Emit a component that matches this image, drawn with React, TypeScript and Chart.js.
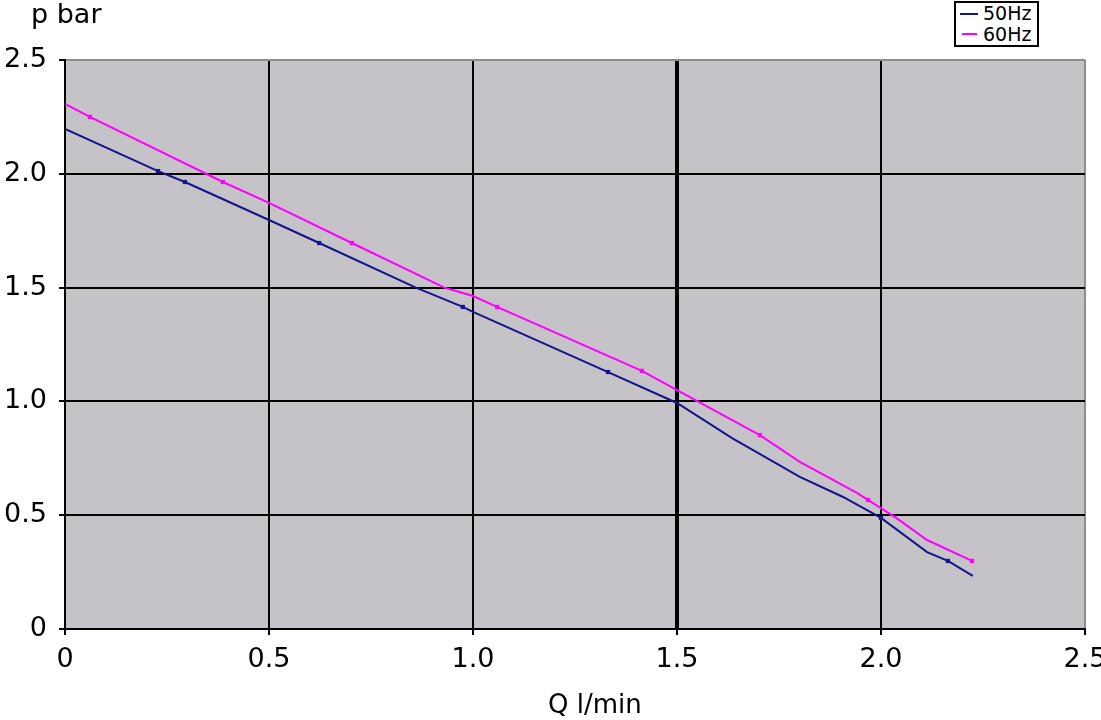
import React, { useEffect, useRef } from 'react';
import { Chart, registerables } from 'chart.js';

Chart.register(...registerables);

// flow Q (l/min) vs pressure p (bar)
const q50 = [0, 0.228, 0.294, 0.5, 0.623, 0.86, 0.975, 1.0, 1.331, 1.5, 1.635, 1.801, 1.907, 2.0, 2.113, 2.164, 2.225];
const p50 = [2.197, 2.012, 1.964, 1.797, 1.696, 1.5, 1.415, 1.393, 1.129, 0.993, 0.839, 0.668, 0.58, 0.488, 0.338, 0.299, 0.233];
const q60 = [0, 0.061, 0.387, 0.5, 0.703, 0.93, 1.0, 1.059, 1.414, 1.5, 1.703, 1.801, 1.941, 1.968, 2.037, 2.113, 2.223];
const p60 = [2.307, 2.25, 1.964, 1.872, 1.696, 1.5, 1.463, 1.415, 1.134, 1.05, 0.852, 0.734, 0.598, 0.567, 0.488, 0.391, 0.299];
const marked50 = [1, 2, 4, 6, 8, 13, 15];
const marked60 = [1, 2, 4, 7, 8, 10, 13, 16];
const seriesNames = ['50Hz', '60Hz'];

const FONT = '"DejaVu Sans", Verdana, sans-serif';
const PLOT_BG = '#c5c3c7';
const BLUE = '#14148c';
const MAGENTA = '#ff00ff';

const plotBackground = {
  id: 'plotBackground',
  beforeDraw(chart: Chart) {
    const { ctx, chartArea } = chart;
    ctx.save();
    ctx.fillStyle = PLOT_BG;
    ctx.fillRect(chartArea.left, chartArea.top, chartArea.right - chartArea.left, chartArea.bottom - chartArea.top);
    ctx.restore();
  },
};

const fmt = (v: number) => (v === 0 ? '0' : v.toFixed(1));

const App: React.FC = () => {
  const canvasRef = useRef<HTMLCanvasElement>(null);
  const chartRef = useRef<Chart | null>(null);

  useEffect(() => {
    if (!canvasRef.current) return;
    if (chartRef.current) {
      chartRef.current.destroy();
      chartRef.current = null;
    }

    const gridColor = (ctx: any) => (ctx.tick && ctx.tick.value === 2.5 ? '#8e8e8e' : '#000000');

    chartRef.current = new Chart(canvasRef.current, {
      type: 'line',
      data: {
        datasets: [
          {
            label: seriesNames[0],
            data: q50.map((q, i) => ({ x: q, y: p50[i] })),
            borderColor: BLUE,
            backgroundColor: BLUE,
            borderWidth: 2,
            tension: 0,
            pointStyle: 'rect',
            pointRadius: (c: any) => (marked50.includes(c.dataIndex) ? 3 : 0),
            pointBorderWidth: 0,
          },
          {
            label: seriesNames[1],
            data: q60.map((q, i) => ({ x: q, y: p60[i] })),
            borderColor: MAGENTA,
            backgroundColor: MAGENTA,
            borderWidth: 2,
            tension: 0,
            pointStyle: 'rect',
            pointRadius: (c: any) => (marked60.includes(c.dataIndex) ? 3 : 0),
            pointBorderWidth: 0,
          },
        ],
      },
      options: {
        responsive: false,
        animation: false,
        layout: { padding: { top: 60, right: 16, left: 0, bottom: 0 } },
        plugins: {
          legend: { display: false },
          tooltip: { enabled: false },
        },
        scales: {
          x: {
            type: 'linear',
            min: 0,
            max: 2.5,
            ticks: {
              stepSize: 0.5,
              color: '#000',
              font: { family: FONT, size: 27 },
              padding: 9,
              maxRotation: 0,
              callback: (v: any) => fmt(Number(v)),
            },
            grid: {
              color: gridColor,
              lineWidth: (c: any) => (c.tick && c.tick.value === 1.5 ? 4 : 2),
              tickColor: '#000',
              tickLength: 6,
              tickWidth: 2,
            },
            border: { display: true, color: '#000', width: 2 },
            afterFit: (scale: any) => {
              scale.height = 91;
              scale.paddingLeft = 0;
              scale.paddingRight = 0;
            },
          },
          y: {
            type: 'linear',
            min: 0,
            max: 2.5,
            ticks: {
              stepSize: 0.5,
              color: '#000',
              font: { family: FONT, size: 27 },
              padding: 12,
              callback: (v: any) => fmt(Number(v)),
            },
            grid: {
              color: gridColor,
              lineWidth: 2,
              tickColor: '#000',
              tickLength: 6,
              tickWidth: 2,
            },
            border: { display: true, color: '#000', width: 2 },
            afterFit: (scale: any) => {
              scale.width = 65;
            },
          },
        },
      },
      plugins: [plotBackground],
    } as any);

    return () => {
      if (chartRef.current) {
        chartRef.current.destroy();
        chartRef.current = null;
      }
    };
  }, []);

  const textStyle: React.CSSProperties = { position: 'absolute', fontFamily: FONT, color: '#000', whiteSpace: 'nowrap' };

  return (
    <div style={{ position: 'absolute', left: 0, top: 0, width: 1101, height: 720, background: '#fff', overflow: 'hidden' }}>
      <canvas ref={canvasRef} width={1101} height={720} style={{ display: 'block' }}></canvas>

      <div style={{ ...textStyle, left: 31, top: 0, fontSize: 27, lineHeight: '27px' }}>p bar</div>
      <div style={{ ...textStyle, left: 548, top: 691, fontSize: 26, lineHeight: '26px' }}>Q l/min</div>

      <div
        style={{
          position: 'absolute',
          left: 954,
          top: 1,
          width: 85,
          height: 46,
          boxSizing: 'border-box',
          border: '2px solid #000',
          background: '#fff',
        }}
      >
        <div style={{ position: 'absolute', left: 4, top: 10, width: 18, height: 2, background: BLUE }}></div>
        <div style={{ ...textStyle, left: 27, top: 1, fontSize: 19, lineHeight: '19px' }}>{seriesNames[0]}</div>
        <div style={{ position: 'absolute', left: 6, top: 30, width: 15, height: 2, background: MAGENTA }}></div>
        <div style={{ ...textStyle, left: 27, top: 22, fontSize: 19, lineHeight: '19px' }}>{seriesNames[1]}</div>
      </div>
    </div>
  );
};

export default App;
